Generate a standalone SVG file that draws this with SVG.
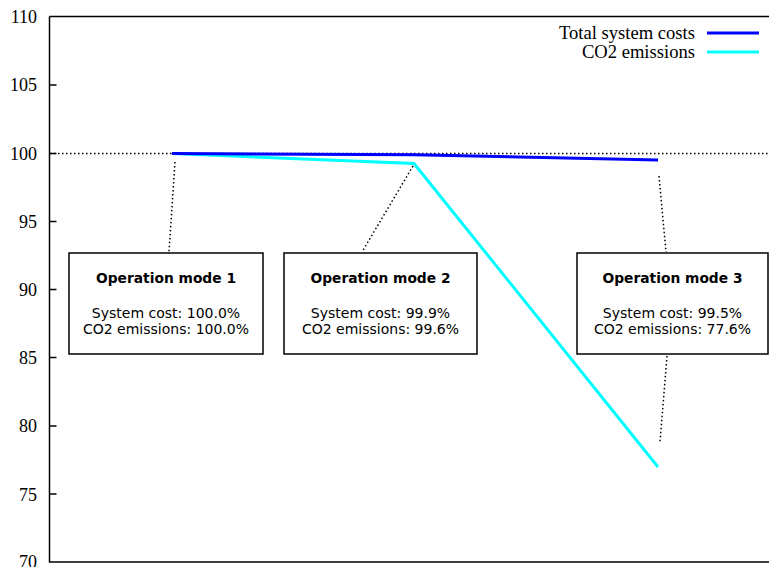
<svg xmlns="http://www.w3.org/2000/svg" width="769" height="567" viewBox="0 0 769 567">
<style>
.tick{font-family:"Liberation Serif",serif;font-size:18px;fill:#000;text-anchor:end}
.leg{font-family:"Liberation Serif",serif;font-size:18.6px;fill:#000;text-anchor:end}
.dot{stroke:#000;stroke-width:1.5;stroke-dasharray:1.5 2.5;fill:none}
.box rect{fill:#fff;stroke:#000;stroke-width:1.5}
.box text{font-family:"DejaVu Sans",Verdana,sans-serif;font-size:14px;fill:#000;text-anchor:middle}
.box .t{font-weight:bold;font-size:13.8px}
.ax{stroke:#000;stroke-width:1.5;fill:none}
</style>
<rect width="769" height="567" fill="#fff"/>
<g id="axes">
<path class="ax" d="M49.5,16.5 H769 M49.5,16.5 V562 H769"/>
<path class="ax" d="M49.5,85 h7 M49.5,153.5 h7 M49.5,221.5 h7 M49.5,289.5 h7 M49.5,357.5 h7 M49.5,426 h7 M49.5,494 h7"/>
<text class="tick" x="37" y="23">110</text>
<text class="tick" x="37" y="91">105</text>
<text class="tick" x="37" y="159.5">100</text>
<text class="tick" x="37" y="228">95</text>
<text class="tick" x="37" y="296">90</text>
<text class="tick" x="37" y="364">85</text>
<text class="tick" x="37" y="432">80</text>
<text class="tick" x="37" y="500.5">75</text>
<text class="tick" x="37" y="568">70</text>
</g>
<g id="reference-line">
<path class="dot" d="M50,153.5 H769"/>
</g>
<g id="connectors">
<path class="dot" d="M175,162 L169,252"/>
<path class="dot" d="M413,166 L362,252"/>
<path class="dot" d="M659,176 L666,252"/>
<path class="dot" d="M667,356 L660,442"/>
</g>
<g id="series-co2">
<polyline points="172,153.5 414,163.5 658,467" fill="none" stroke="#00ffff" stroke-width="3"/>
</g>
<g id="series-cost">
<polyline points="172,153.5 414,154.8 658,160" fill="none" stroke="#0000ff" stroke-width="3"/>
</g>
<g id="legend">
<text class="leg" x="695" y="39">Total system costs</text>
<line x1="707" y1="33" x2="759" y2="33" stroke="#0000ff" stroke-width="3"/>
<text class="leg" x="695" y="58">CO2 emissions</text>
<line x1="707" y1="52" x2="759" y2="52" stroke="#00ffff" stroke-width="3"/>
</g>
<g id="mode1" class="box">
<rect x="69" y="253" width="194" height="101"/>
<text class="t" x="166" y="283">Operation mode 1</text>
<text x="166" y="318">System cost: 100.0%</text>
<text x="166" y="334">CO2 emissions: 100.0%</text>
</g>
<g id="mode2" class="box">
<rect x="284" y="253" width="193" height="101"/>
<text class="t" x="380.5" y="283">Operation mode 2</text>
<text x="380.5" y="318">System cost: 99.9%</text>
<text x="380.5" y="334">CO2 emissions: 99.6%</text>
</g>
<g id="mode3" class="box">
<rect x="577" y="253" width="191" height="101"/>
<text class="t" x="672.5" y="283">Operation mode 3</text>
<text x="672.5" y="318">System cost: 99.5%</text>
<text x="672.5" y="334">CO2 emissions: 77.6%</text>
</g>
</svg>
